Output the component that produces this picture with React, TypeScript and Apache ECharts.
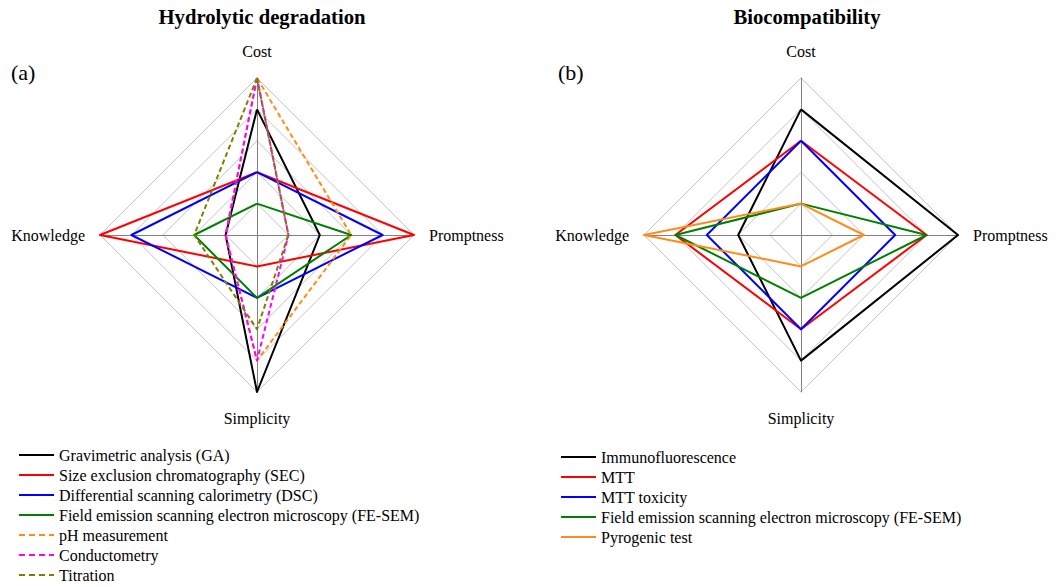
import React, { useEffect, useRef } from "react";
import * as echarts from "echarts";

// indicator order (counter-clockwise from top): Cost, Knowledge, Simplicity, Promptness
const indicatorNames = ["Cost", "Knowledge", "Simplicity", "Promptness"];
const maxValue = 5;

const namesA = [
  "Gravimetric analysis (GA)",
  "Size exclusion chromatography (SEC)",
  "Differential scanning calorimetry (DSC)",
  "Field emission scanning electron microscopy (FE-SEM)",
  "pH measurement",
  "Conductometry",
  "Titration",
];
const valuesA = [
  [4, 1, 5, 2],
  [2, 5, 1, 5],
  [2, 4, 2, 4],
  [1, 2, 2, 3],
  [5, 1, 4, 3],
  [5, 1, 4, 1],
  [5, 2, 3, 1],
];
const colorsA = ["#000000", "#ff0000", "#0000ff", "#008000", "#ff8c1a", "#ff00ff", "#808000"];
const dashedA = [false, false, false, false, true, true, true];

const namesB = [
  "Immunofluorescence",
  "MTT",
  "MTT toxicity",
  "Field emission scanning electron microscopy (FE-SEM)",
  "Pyrogenic test",
];
const valuesB = [
  [4, 2, 4, 5],
  [3, 4, 3, 4],
  [3, 3, 3, 3],
  [1, 4, 2, 4],
  [1, 5, 1, 2],
];
const colorsB = ["#000000", "#ff0000", "#0000ff", "#008000", "#ff8c1a"];

const FAMILY = "Liberation Serif";
const SOLID_ICON = "path://M0,0H35V2H0Z";
const DASH_ICON = "path://M0,0H6V2H0ZM10,0H16V2H10ZM20,0H26V2H20ZM30,0H35V2H30Z";

function makeRadar(center: number[]) {
  return {
    center,
    radius: 157,
    startAngle: 90,
    splitNumber: 5,
    shape: "polygon",
    nameGap: 15,
    indicator: indicatorNames.map((n) => ({ name: n, max: maxValue, min: 0 })),
    axisName: { color: "#000", fontFamily: FAMILY, fontSize: 16, padding: [3, 0, 4, 0] },
    axisLine: { lineStyle: { color: "#808080", width: 1 } },
    splitLine: { lineStyle: { color: "#c4c4c4", width: 1 } },
    splitArea: { show: false },
  };
}

function makeSeries(names: string[], values: number[][], colors: string[], dashed: boolean[], radarIndex: number) {
  return names.map((name, i) => ({
    type: "radar",
    name,
    radarIndex,
    symbol: "none",
    color: colors[i],
    itemStyle: { color: colors[i] },
    lineStyle: { color: colors[i], width: 2, type: dashed[i] ? [5, 3] : "solid" },
    data: [
      {
        name,
        value: values[i],
        itemStyle: { color: colors[i] },
        lineStyle: { color: colors[i], width: 2, type: dashed[i] ? [5, 3] : "solid" },
      },
    ],
  }));
}

export default function App() {
  const ref = useRef<HTMLDivElement>(null);
  useEffect(() => {
    if (!ref.current) return;
    const chart = echarts.init(ref.current, null, { renderer: "svg" });
    const legendCommon = {
      orient: "vertical",
      itemWidth: 35,
      itemHeight: 2,
      itemGap: 0,
      padding: 0,
      selectedMode: false,
      itemStyle: { borderWidth: 0 },
      textStyle: { fontFamily: FAMILY, fontSize: 16, color: "#000", lineHeight: 20 },
    };
    chart.setOption({
      animation: false,
      backgroundColor: "#ffffff",
      radar: [makeRadar([257, 235]), makeRadar([801, 235])],
      legend: [
        {
          ...legendCommon,
          left: 19,
          top: 445,
          data: namesA.map((n, i) => ({ name: n, icon: dashedA[i] ? DASH_ICON : SOLID_ICON })),
        },
        {
          ...legendCommon,
          left: 561,
          top: 447,
          data: namesB.map((n) => ({ name: n, icon: SOLID_ICON })),
        },
      ],
      graphic: [
        {
          type: "text",
          x: 262,
          y: 17,
          style: { text: "Hydrolytic degradation", font: `bold 20.7px "${FAMILY}"`, fill: "#000", textAlign: "center", textVerticalAlign: "middle" },
        },
        {
          type: "text",
          x: 807,
          y: 17,
          style: { text: "Biocompatibility", font: `bold 20.7px "${FAMILY}"`, fill: "#000", textAlign: "center", textVerticalAlign: "middle" },
        },
        {
          type: "text",
          x: 11,
          y: 72,
          style: { text: "(a)", font: `22px "${FAMILY}"`, fill: "#000", textAlign: "left", textVerticalAlign: "middle" },
        },
        {
          type: "text",
          x: 558,
          y: 72,
          style: { text: "(b)", font: `22px "${FAMILY}"`, fill: "#000", textAlign: "left", textVerticalAlign: "middle" },
        },
      ],
      series: [
        ...makeSeries(namesA, valuesA, colorsA, dashedA, 0),
        ...makeSeries(namesB, valuesB, colorsB, namesB.map(() => false), 1),
      ],
    });
    return () => chart.dispose();
  }, []);
  return (
    <div
      ref={ref}
      style={{ position: "absolute", left: 0, top: 0, width: 1062, height: 587, background: "#fff" }}
    />
  );
}
